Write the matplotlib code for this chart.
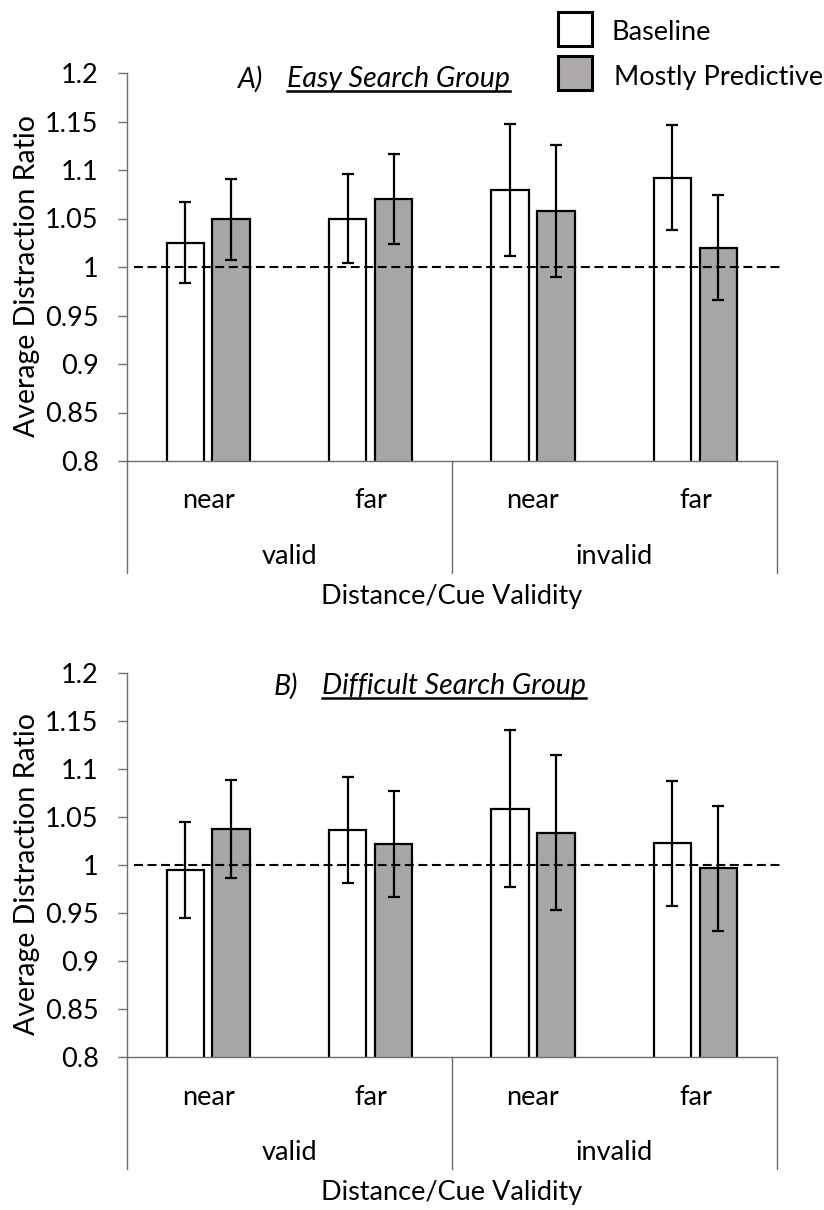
import matplotlib
matplotlib.use("Agg")
import matplotlib.pyplot as plt
from matplotlib.patches import Rectangle
from matplotlib.lines import Line2D
from matplotlib.transforms import IdentityTransform

plt.rcParams["font.family"] = ["Lato", "DejaVu Sans"]

# ---- data -------------------------------------------------------------
distances = ["near", "far", "near", "far"]
validity = ["valid", "invalid"]
series_names = ["Baseline", "Mostly Predictive"]

easy_baseline = [1.025, 1.050, 1.079, 1.092]
easy_baseline_err = [0.042, 0.046, 0.068, 0.054]
easy_predictive = [1.049, 1.070, 1.058, 1.020]
easy_predictive_err = [0.042, 0.046, 0.068, 0.054]

difficult_baseline = [0.995, 1.037, 1.059, 1.023]
difficult_baseline_err = [0.050, 0.055, 0.082, 0.065]
difficult_predictive = [1.038, 1.022, 1.034, 0.997]
difficult_predictive_err = [0.051, 0.055, 0.081, 0.065]

yticks = [0.8, 0.85, 0.9, 0.95, 1.0, 1.05, 1.1, 1.15, 1.2]
ytick_labels = ["0.8", "0.85", "0.9", "0.95", "1", "1.05", "1.1", "1.15", "1.2"]
reference_level = 1.0

# ---- styling ----------------------------------------------------------
W, H = 824, 1210
FS = 19.5
FS_TITLE = 20.5
FS_YLABEL = 20.5
AXIS_GREY = "#6e6e6e"
BAR_GREY = "#a6a6a6"
LEGEND_GREY = "#aeaaaa"
BAR_W = 0.23
OFFSET = 0.1415

fig = plt.figure(figsize=(W / 100, H / 100), dpi=100)


def px_axes(left, top, right, bottom):
    return [left / W, 1 - bottom / H, (right - left) / W, (bottom - top) / H]


def below(ax, px):
    return -px / ax.bbox.height


def draw_panel(ax, base, base_err, pred, pred_err):
    x = list(range(len(distances)))
    xb = [v - OFFSET for v in x]
    xp = [v + OFFSET for v in x]
    ekw = dict(ecolor="black", elinewidth=1.6, capsize=4.3, capthick=1.6, zorder=4)
    ax.bar(xb, base, width=BAR_W, color="white", edgecolor="black",
           linewidth=1.6, yerr=base_err, error_kw=ekw, zorder=2)
    ax.bar(xp, pred, width=BAR_W, color=BAR_GREY, edgecolor="black",
           linewidth=1.6, yerr=pred_err, error_kw=ekw, zorder=2)
    ax.plot([-0.455, 3.53], [reference_level, reference_level], color="black",
            lw=1.5, dashes=(4.3, 2.2), zorder=5, clip_on=False)

    ax.set_xlim(-0.5, 3.5)
    ax.set_ylim(0.8, 1.2)
    ax.set_yticks(yticks)
    ax.set_yticklabels(ytick_labels, fontsize=FS)
    ax.set_xticks([])
    ax.tick_params(axis="y", direction="out", length=6.5, width=1,
                   color=AXIS_GREY, pad=14)
    for s in ["top", "right"]:
        ax.spines[s].set_visible(False)
    for s in ["left", "bottom"]:
        ax.spines[s].set_color(AXIS_GREY)
        ax.spines[s].set_linewidth(1)

    tr = ax.get_xaxis_transform()
    for xv in [-0.5, 1.5, 3.5]:
        ax.add_line(Line2D([xv, xv], [0, below(ax, 112)], transform=tr,
                           color=AXIS_GREY, lw=1, clip_on=False))
    for i, lab in enumerate(distances):
        ax.text(i, below(ax, 47.5), lab, transform=tr, ha="center",
                va="baseline", fontsize=FS)
    for i, lab in enumerate(validity):
        ax.text(0.5 + 2 * i, below(ax, 103), lab, transform=tr, ha="center",
                va="baseline", fontsize=FS)
    ax.text(1.5, below(ax, 143), "Distance/Cue Validity", transform=tr,
            ha="center", va="baseline", fontsize=FS)
    ax.set_ylabel("Average Distraction Ratio", fontsize=FS_YLABEL)
    ax.yaxis.set_label_coords(-0.134, 0.477)


ax_top = fig.add_axes(px_axes(127, 73, 776.5, 461))
ax_bot = fig.add_axes(px_axes(127, 673.3, 776.5, 1057.3))
draw_panel(ax_top, easy_baseline, easy_baseline_err, easy_predictive, easy_predictive_err)
draw_panel(ax_bot, difficult_baseline, difficult_baseline_err,
           difficult_predictive, difficult_predictive_err)


def fig_text(x, y, s, size=FS, **kw):
    return fig.text(x / W, 1 - y / H, s, fontsize=size, va="baseline", **kw)


# panel titles
titles = []
fig_text(238, 87.3, "A)", size=FS_TITLE, style="italic")
titles.append((fig_text(287, 87.3, "Easy Search Group", size=FS_TITLE, style="italic"), 91))
fig_text(274, 694.3, "B)", size=FS_TITLE, style="italic")
titles.append((fig_text(322, 694.3, "Difficult Search Group", size=FS_TITLE, style="italic"), 698))

# legend
for (top, bottom), face, label, ty, tx in [
        ((11.7, 46), "white", series_names[0], 40, 611.7),
        ((56, 90), LEGEND_GREY, series_names[1], 85, 614)]:
    fig.add_artist(Rectangle((558.3 / W, 1 - bottom / H), 33.4 / W,
                             (bottom - top) / H, transform=fig.transFigure,
                             facecolor=face, edgecolor="black", lw=2.2))
    fig_text(tx, ty, label)

# underline the group names
fig.canvas.draw()
renderer = fig.canvas.get_renderer()
for t, uy in titles:
    bb = t.get_window_extent(renderer)
    fig.add_artist(Line2D([bb.x0, bb.x1], [H - uy, H - uy],
                          transform=IdentityTransform(), color="black", lw=1.8))

fig.savefig("out.png", dpi=100)
